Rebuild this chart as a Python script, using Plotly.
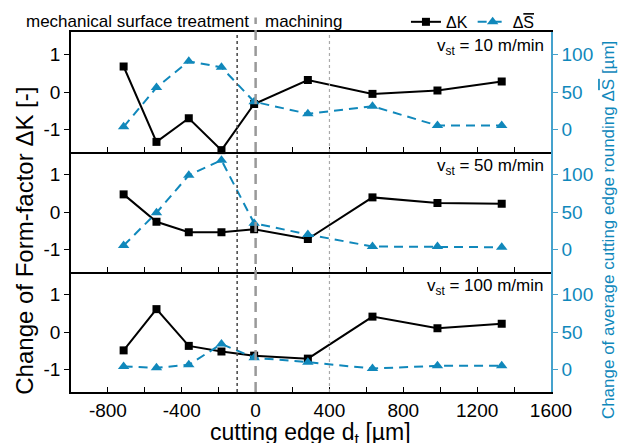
import plotly.graph_objects as go
from plotly.subplots import make_subplots

# ---------------- data ----------------
x_pos = [-715, -537, -362, -185, -8, 283, 633, 985, 1333]

dk_10 = [0.68, -1.33, -0.70, -1.55, -0.32, 0.32, -0.05, 0.04, 0.28]
ds_10 = [3.6, 56, 91, 83, 37, 21, 31, 5.3, 5.3]

dk_50 = [0.47, -0.26, -0.54, -0.54, -0.46, -0.72, 0.39, 0.24, 0.22]
ds_50 = [5.3, 49, 99, 119, 35, 20, 4, 4, 3]

dk_100 = [-0.49, 0.61, -0.37, -0.52, -0.63, -0.71, 0.41, 0.10, 0.22]
ds_100 = [4, 2.2, 6.3, 34, 15.6, 9.8, 1.3, 4.9, 4.9]

panel_labels = ["v<sub>st</sub> = 10 m/min", "v<sub>st</sub> = 50 m/min", "v<sub>st</sub> = 100 m/min"]
x_ticks = [-800, -400, 0, 400, 800, 1200, 1600]
x_ticktext = ["-800", "-400", "0", "400", "800", "1200", "1600"]
dk_ticks = [-1, 0, 1]
dk_ticktext = ["-1", "0", "1"]
ds_ticks = [0, 50, 100]

SBAR = 'Δ<span style="text-decoration:overline">S</span>'

# ---------------- styles ----------------
FONT = "Liberation Sans, Arial, sans-serif"
BLUE = "#1088bb"
BLUE_AX = "#45a2cd"
BLACK = "#000000"

fig = make_subplots(rows=3, cols=1, shared_xaxes=True, vertical_spacing=0,
                    specs=[[{"secondary_y": True}]] * 3)

panels = [(dk_10, ds_10), (dk_50, ds_50), (dk_100, ds_100)]
for i, (dk, ds) in enumerate(panels):
    row = i + 1
    fig.add_trace(go.Scatter(x=x_pos, y=dk, mode="lines+markers", name="ΔK",
                             line=dict(color=BLACK, width=2),
                             marker=dict(symbol="square", size=8, color=BLACK),
                             cliponaxis=False, showlegend=(i == 0), legendrank=1),
                  row=row, col=1, secondary_y=False)
    fig.add_trace(go.Scatter(x=x_pos, y=ds, mode="lines+markers", name=SBAR,
                             line=dict(color=BLUE, width=2, dash="9px,6px"),
                             marker=dict(symbol="triangle-up", size=10, color=BLUE),
                             cliponaxis=False, showlegend=(i == 0), legendrank=2),
                  row=row, col=1, secondary_y=True)

for i in range(3):
    row = i + 1
    fig.update_xaxes(row=row, col=1, range=[-1000, 1600], showgrid=False, zeroline=False,
                     showline=True, linecolor=BLACK, linewidth=1.5, mirror=(row == 1),
                     tickvals=x_ticks, ticktext=x_ticktext, ticks="inside", ticklen=5,
                     tickcolor=BLACK,
                     minor=dict(dtick=200, tick0=0, ticks="inside", ticklen=5, tickcolor=BLACK),
                     showticklabels=(row == 3),
                     tickfont=dict(family=FONT, size=19, color=BLACK))
    fig.update_yaxes(row=row, col=1, secondary_y=False, range=[-1.6, 1.6], showgrid=False,
                     zeroline=False, showline=True, linecolor=BLACK, linewidth=1.5,
                     tickvals=dk_ticks, ticktext=dk_ticktext, ticks="outside", ticklen=5,
                     tickcolor=BLACK,
                     tickfont=dict(family=FONT, size=19, color=BLACK))
    fig.update_yaxes(row=row, col=1, secondary_y=True, range=[-30, 130], showgrid=False,
                     zeroline=False, showline=True, linecolor=BLUE_AX, linewidth=1.5,
                     tickvals=ds_ticks, ticks="outside", ticklen=5, tickcolor=BLUE_AX,
                     tickfont=dict(family=FONT, size=19, color=BLUE))

fig.update_xaxes(domain=[0, 1])

# reference lines
fig.add_shape(type="line", xref="x", yref="paper", x0=-100, x1=-100, y0=0, y1=1,
              line=dict(color="#444444", width=1.5, dash="dot"))
fig.add_shape(type="line", xref="x", yref="paper", x0=400, x1=400, y0=0, y1=1,
              line=dict(color="#aaaaaa", width=1.2, dash="dot"))
fig.add_shape(type="line", xref="x", yref="paper", x0=0, x1=0, y0=0, y1=1.04,
              line=dict(color="#999999", width=2.5, dash="10px,6px"))

annotations = []
tops = [1.0, 2 / 3, 1 / 3]
for i, lbl in enumerate(panel_labels):
    annotations.append(dict(text=lbl, xref="paper", yref="paper", x=0.99, y=tops[i] - 0.041,
                            xanchor="right", yanchor="middle", showarrow=False,
                            font=dict(family=FONT, size=17, color=BLACK)))
annotations += [
    dict(text="mechanical surface treatment", xref="x", yref="paper", x=-25, y=1.028,
         xanchor="right", yanchor="middle", showarrow=False,
         font=dict(family=FONT, size=17, color=BLACK)),
    dict(text="machining", xref="x", yref="paper", x=38, y=1.028,
         xanchor="left", yanchor="middle", showarrow=False,
         font=dict(family=FONT, size=17, color=BLACK)),
    dict(text="Change of Form-factor ΔK [-]", xref="paper", yref="paper", x=-0.096, y=0.42,
         xanchor="center", yanchor="middle", textangle=-90, showarrow=False,
         font=dict(family=FONT, size=24, color=BLACK)),
    dict(text="Change of average cutting edge rounding " + SBAR + " [µm]", xref="paper",
         yref="paper", x=1.119, y=0.45, xanchor="center", yanchor="middle", textangle=-90,
         showarrow=False, font=dict(family=FONT, size=17, color=BLUE)),
    dict(text="cutting edge d<sub>t</sub> [µm]", xref="paper", yref="paper", x=0.498, y=-0.114,
         xanchor="center", yanchor="middle", showarrow=False,
         font=dict(family=FONT, size=23, color=BLACK)),
]

fig.update_layout(
    width=627, height=443,
    margin=dict(l=71, r=76, t=32, b=51, autoexpand=False),
    plot_bgcolor="white", paper_bgcolor="white",
    font=dict(family=FONT, size=17, color=BLACK),
    annotations=annotations,
    showlegend=True,
    legend=dict(orientation="h", x=0.977, xanchor="right", y=1.028, yanchor="middle",
                bgcolor="rgba(0,0,0,0)", font=dict(family=FONT, size=16, color=BLACK),
                itemwidth=30, tracegroupgap=0, traceorder="normal"),
)

fig.write_html("out.html", config={"displayModeBar": False},
               post_script="document.body.style.margin='0px';")
